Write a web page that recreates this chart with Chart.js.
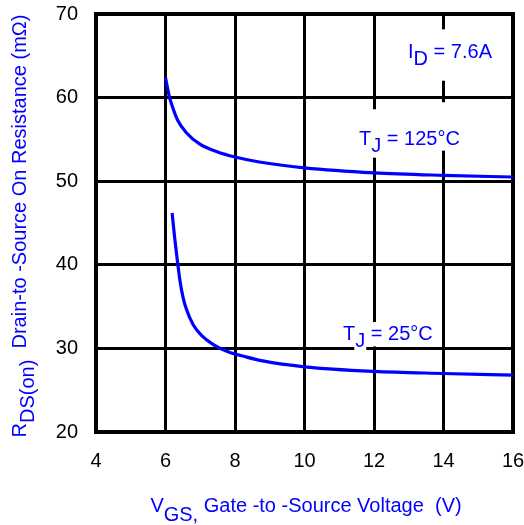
<!DOCTYPE html>
<html><head><meta charset="utf-8">
<script src="https://cdn.jsdelivr.net/npm/chart.js@4/dist/chart.umd.min.js"></script>
<style>html,body{margin:0;padding:0;background:#fff;}#wrap{width:524px;height:525px;}</style>
</head><body><div id="wrap"><canvas id="c" width="524" height="525"></canvas></div>
<script>
// ---- data ----
const vgsHot = [6.0, 6.1, 6.2, 6.35, 6.6, 7.0, 7.5, 8.0, 8.7, 10, 12, 14, 16];
const rdsHot = [62.4, 60.3, 58.9, 57.3, 55.8, 54.4, 53.5, 52.9, 52.3, 51.6, 51.0, 50.7, 50.5];
const vgsCold = [6.19, 6.27, 6.35, 6.42, 6.5, 6.6, 6.8, 7.05, 7.4, 7.8, 8.3, 8.8, 10, 12, 14, 16];
const rdsCold = [46.2, 43.0, 40.2, 38.0, 36.2, 34.7, 32.8, 31.5, 30.4, 29.6, 29.0, 28.5, 27.8, 27.25, 27.0, 26.8];
const xTicks = [4, 6, 8, 10, 12, 14, 16];
const yTicks = [20, 30, 40, 50, 60, 70];
const seriesNames = ['TJ = 125°C', 'TJ = 25°C'];

// ---- styling / layout ----
const FAM = '"Liberation Sans", Arial, Helvetica, sans-serif';
const FS = 20;
const BLUE = '#0000ff';

const annotations = [
  { parts: [['I', 0], ['D', 7], [' = 7.6A', 0]], x: 12.98, y: 64.7, padTop: 13, padBottom: 18 },
  { parts: [['T', 0], ['J', 7], [' = 125°C', 0]], x: 11.57, y: 54.3, padTop: 27, padBottom: 1 },
  { parts: [['T', 0], ['J', 7], [' = 25°C', 0]], x: 11.11, y: 31.0, padTop: 2, padBottom: 2 }
];

function drawRich(ctx, parts, x, y, box) {
  ctx.font = FS + 'px ' + FAM;
  ctx.textBaseline = 'alphabetic';
  ctx.textAlign = 'left';
  let cx = x;
  const widths = parts.map(p => ctx.measureText(p[0]).width);
  if (box) {
    ctx.fillStyle = '#fff';
    parts.forEach((p, i) => {
      const top = y + p[1] - 0.8 * FS - box.top;
      const bot = y + p[1] + 0.22 * FS + box.bottom;
      ctx.fillRect(cx - 1, top, widths[i] + 2, bot - top);
      cx += widths[i];
    });
  }
  cx = x;
  ctx.fillStyle = BLUE;
  parts.forEach((p, i) => { ctx.fillText(p[0], cx, y + p[1]); cx += widths[i]; });
  return widths.reduce((a, b) => a + b, 0);
}
function richWidth(ctx, parts) {
  ctx.font = FS + 'px ' + FAM;
  return parts.reduce((a, p) => a + ctx.measureText(p[0]).width, 0);
}

const deco = {
  id: 'deco',
  beforeDatasetsDraw(chart) {
    const { ctx, chartArea: a } = chart;
    ctx.save();
    ctx.strokeStyle = '#000';
    ctx.lineWidth = 4;
    ctx.strokeRect(a.left, a.top, a.right - a.left, a.bottom - a.top);
    ctx.restore();
  },
  afterDatasetsDraw(chart) {
    const { ctx } = chart;
    const xs = chart.scales.x, ys = chart.scales.y;
    ctx.save();
    annotations.forEach(an => {
      drawRich(ctx, an.parts, xs.getPixelForValue(an.x), ys.getPixelForValue(an.y),
        { top: an.padTop, bottom: an.padBottom });
    });
    ctx.restore();
  },
  afterDraw(chart) {
    const { ctx } = chart;
    ctx.save();
    // x-axis title
    const xp = [['V', 0], ['GS,', 9], [' Gate -to -Source Voltage  (V)', 0]];
    const wx = richWidth(ctx, xp);
    drawRich(ctx, xp, 306 - wx / 2, 512, null);
    // y-axis title
    const yp = [['R', 0], ['DS(on)', 8], ['  Drain-to -Source On Resistance (m\u03A9)', 0]];
    const wy = richWidth(ctx, yp);
    ctx.translate(26, 226);
    ctx.rotate(-Math.PI / 2);
    drawRich(ctx, yp, -wy / 2, 0, null);
    ctx.restore();
  }
};

const toPts = (xs, ys) => xs.map((v, i) => ({ x: v, y: ys[i] }));
const zeroPad = s => { s.paddingTop = 0; s.paddingBottom = 0; s.paddingLeft = 0; s.paddingRight = 0; };

new Chart(document.getElementById('c'), {
  type: 'line',
  data: {
    datasets: [
      { label: seriesNames[0], data: toPts(vgsHot, rdsHot) },
      { label: seriesNames[1], data: toPts(vgsCold, rdsCold) }
    ]
  },
  options: {
    responsive: false,
    animation: false,
    devicePixelRatio: 1,
    layout: { padding: { top: 14, right: 11, left: 0, bottom: 0 } },
    elements: {
      line: { borderColor: BLUE, borderWidth: 3.2, cubicInterpolationMode: 'monotone', fill: false },
      point: { radius: 0, hoverRadius: 0 }
    },
    plugins: { legend: { display: false }, tooltip: { enabled: false }, title: { display: false } },
    scales: {
      x: {
        type: 'linear', min: 4, max: 16,
        afterBuildTicks: s => { s.ticks = xTicks.map(v => ({ value: v })); },
        afterFit: s => { s.height = 93; zeroPad(s); },
        grid: { color: '#000', lineWidth: 3, drawTicks: false },
        border: { display: false },
        ticks: { color: '#000', font: { family: FAM, size: FS }, padding: 17, maxRotation: 0 }
      },
      y: {
        type: 'linear', min: 20, max: 70,
        afterBuildTicks: s => { s.ticks = yTicks.map(v => ({ value: v })); },
        afterFit: s => { s.width = 96; zeroPad(s); },
        grid: { color: '#000', lineWidth: 3, drawTicks: false },
        border: { display: false },
        ticks: { color: '#000', font: { family: FAM, size: FS }, padding: 18 }
      }
    }
  },
  plugins: [deco]
});
</script></body></html>
